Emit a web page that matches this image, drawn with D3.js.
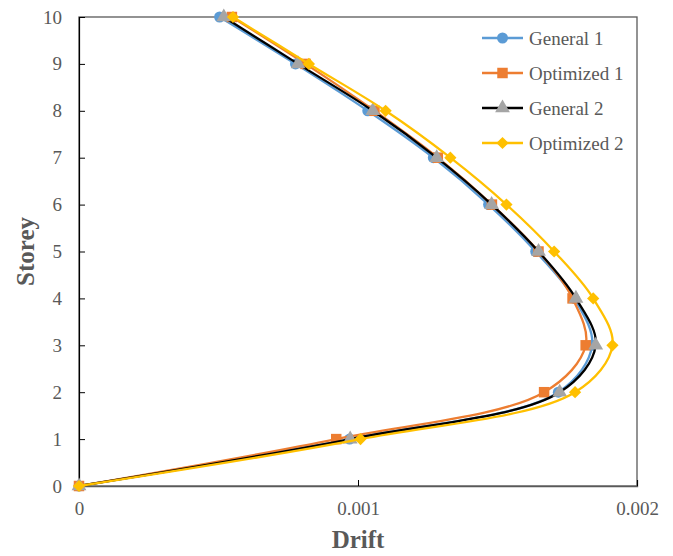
<!DOCTYPE html>
<html>
<head>
<meta charset="utf-8">
<script src="https://cdn.jsdelivr.net/npm/d3@7"></script>
<style>
  body { margin: 0; background: #fff; }
  svg { display: block; font-family: "Liberation Serif", "DejaVu Serif", serif; }
</style>
</head>
<body>
<div id="chart"></div>
<script>

// storey levels (y)
var storeys = [0, 1, 2, 3, 4, 5, 6, 7, 8, 9, 10];

// drift values for each storey
var general1   = [0, 0.000970, 0.001718, 0.001839, 0.001775, 0.001637, 0.001468, 0.001270, 0.001035, 0.000776, 0.000504];
var optimized1 = [0, 0.000922, 0.001667, 0.001816, 0.001769, 0.001647, 0.001480, 0.001286, 0.001059, 0.000812, 0.000548];
var general2   = [0, 0.000972, 0.001723, 0.001852, 0.001781, 0.001647, 0.001479, 0.001282, 0.001053, 0.000785, 0.000519];
var optimized2 = [0, 0.001009, 0.001778, 0.001912, 0.001843, 0.001703, 0.001532, 0.001331, 0.001099, 0.000824, 0.000552];

var seriesNames = ["General 1", "Optimized 1", "General 2", "Optimized 2"];
var xTicks = [0, 0.001, 0.002];
var yTicks = [0, 1, 2, 3, 4, 5, 6, 7, 8, 9, 10];

var W = 673, H = 556;
var margin = {left: 79, top: 17, right: 36, bottom: 70};

var svg = d3.select("#chart").append("svg")
  .attr("width", W)
  .attr("height", H);

var x = d3.scaleLinear()
  .domain([0, 0.002])
  .range([margin.left, W - margin.right]);

var y = d3.scaleLinear()
  .domain([0, 10])
  .range([H - margin.bottom, margin.top]);

// series setup (rot = rotate the marker, used for the diamond)
var series = [
  {name: seriesNames[0], values: general1,   line: "#5B9BD5", mark: "#5B9BD5", shape: d3.symbolCircle,   size: 95,  rot: 0},
  {name: seriesNames[1], values: optimized1, line: "#ED7D31", mark: "#ED7D31", shape: d3.symbolSquare,   size: 110, rot: 0},
  {name: seriesNames[2], values: general2,   line: "#000000", mark: "#A5A5A5", shape: d3.symbolTriangle, size: 95,  rot: 0},
  {name: seriesNames[3], values: optimized2, line: "#FFC000", mark: "#FFC000", shape: d3.symbolSquare,   size: 75,  rot: 45}
];

// plot frame
svg.append("rect")
  .attr("x", x(0))
  .attr("y", y(10))
  .attr("width", x(0.002) - x(0))
  .attr("height", y(0) - y(10))
  .attr("fill", "none")
  .attr("stroke", "#595959")
  .attr("stroke-width", 1.3);

// y axis (ticks inside)
var yAxis = d3.axisLeft(y)
  .tickValues(yTicks)
  .tickSize(-6)
  .tickPadding(17)
  .tickFormat(d3.format("d"));

var gy = svg.append("g")
  .attr("transform", "translate(" + x(0) + ",0)")
  .call(yAxis);
gy.select(".domain").attr("stroke", "#000").attr("stroke-width", 1.2);
gy.selectAll(".tick line").attr("stroke", "#000");
gy.selectAll(".tick text")
  .attr("fill", "#595959")
  .style("font-size", "19px")
  .style("font-family", "Liberation Serif, serif");

// x axis (ticks inside)
var xAxis = d3.axisBottom(x)
  .tickValues(xTicks)
  .tickSize(-6)
  .tickPadding(16)
  .tickFormat(function(d) { return d === 0 ? "0" : d3.format(".3f")(d); });

var gx = svg.append("g")
  .attr("transform", "translate(0," + y(0) + ")")
  .call(xAxis);
gx.select(".domain").attr("stroke", "#595959").attr("stroke-width", 1.3);
gx.selectAll(".tick line").attr("stroke", "#000");
gx.selectAll(".tick text")
  .attr("fill", "#595959")
  .style("font-size", "19px")
  .style("font-family", "Liberation Serif, serif");

// smooth lines, going along the storey order
var lineGen = d3.line()
  .curve(d3.curveCatmullRom.alpha(0.5))
  .x(function(d) { return x(d[0]); })
  .y(function(d) { return y(d[1]); });

series.forEach(function(s) {
  var pts = s.values.map(function(v, i) { return [v, storeys[i]]; });

  svg.append("path")
    .attr("d", lineGen(pts))
    .attr("fill", "none")
    .attr("stroke", s.line)
    .attr("stroke-width", 2.3);

  svg.selectAll(null)
    .data(pts)
    .enter()
    .append("path")
    .attr("transform", function(d) {
      return "translate(" + x(d[0]) + "," + y(d[1]) + ") rotate(" + s.rot + ")";
    })
    .attr("d", d3.symbol().type(s.shape).size(s.size))
    .attr("fill", s.mark);
});

// legend
var legend = svg.append("g")
  .attr("transform", "translate(482,38)");

series.forEach(function(s, i) {
  var g = legend.append("g").attr("transform", "translate(0," + (i * 35) + ")");
  g.append("line")
    .attr("x1", 0).attr("x2", 41)
    .attr("y1", 0).attr("y2", 0)
    .attr("stroke", s.line)
    .attr("stroke-width", 2.3);
  g.append("path")
    .attr("transform", "translate(20.5,0) rotate(" + s.rot + ")")
    .attr("d", d3.symbol().type(s.shape).size(s.size))
    .attr("fill", s.mark);
  g.append("text")
    .attr("x", 47)
    .attr("y", 0)
    .attr("dy", "0.35em")
    .attr("fill", "#595959")
    .style("font-size", "19px")
    .text(s.name);
});

// axis titles
svg.append("text")
  .attr("x", (x(0) + x(0.002)) / 2)
  .attr("y", 548)
  .attr("text-anchor", "middle")
  .attr("fill", "#595959")
  .style("font-size", "25px")
  .style("font-weight", "bold")
  .text("Drift");

svg.append("text")
  .attr("transform", "translate(34," + ((y(0) + y(10)) / 2) + ") rotate(-90)")
  .attr("text-anchor", "middle")
  .attr("fill", "#595959")
  .style("font-size", "25px")
  .style("font-weight", "bold")
  .text("Storey");

</script>
</body>
</html>
